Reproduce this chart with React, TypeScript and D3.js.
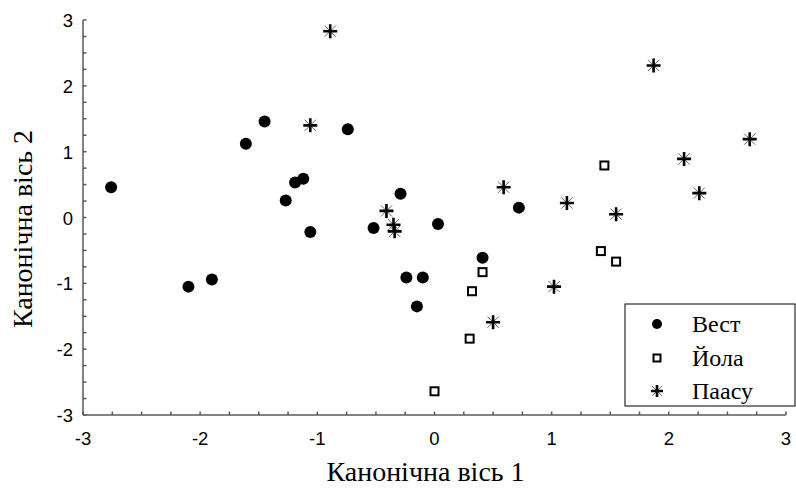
import React from "react";
import * as d3 from "d3";

// Data (canonical scores)
const vestPoints: [number, number][] = [
  [-2.76, 0.46], [-2.1, -1.05], [-1.9, -0.94], [-1.61, 1.12], [-1.45, 1.46],
  [-1.27, 0.26], [-1.19, 0.53], [-1.12, 0.59], [-1.06, -0.22], [-0.74, 1.34],
  [-0.52, -0.16], [-0.29, 0.36], [-0.24, -0.91], [-0.1, -0.91], [-0.15, -1.35],
  [0.03, -0.1], [0.41, -0.61], [0.72, 0.15],
];
const yolaPoints: [number, number][] = [
  [0.41, -0.83], [0.32, -1.12], [0.3, -1.84], [0.0, -2.64],
  [1.42, -0.51], [1.55, -0.67], [1.45, 0.79],
];
const paasuPoints: [number, number][] = [
  [-0.89, 2.83], [-1.06, 1.4], [0.59, 0.46], [1.13, 0.22], [-0.41, 0.1],
  [-0.35, -0.11], [-0.34, -0.21], [1.87, 2.31], [2.69, 1.19], [2.13, 0.89],
  [2.26, 0.37], [1.55, 0.05], [1.02, -1.05], [0.5, -1.59],
];
const legendLabels = ["Вест", "Йола", "Паасу"];
const tickValues = [-3, -2, -1, 0, 1, 2, 3];
const xTitle = "Канонічна вісь 1";
const yTitle = "Канонічна вісь 2";

const W = 796;
const H = 490;
const AXIS = "#5a5a5a";
const SERIF = "'Liberation Serif', Tinos, 'DejaVu Serif'";
const SANS = "'Liberation Sans', Arimo, Roboto, 'DejaVu Sans'";

function Circle({ cx, cy, r = 6 }: { cx: number; cy: number; r?: number }) {
  return <circle cx={cx} cy={cy} r={r} fill="#000" />;
}
function Square({ cx, cy, s = 8 }: { cx: number; cy: number; s?: number }) {
  return (
    <rect x={cx - s / 2} y={cy - s / 2} width={s} height={s} fill="#fff" stroke="#000" strokeWidth={2} />
  );
}
function Star({ cx, cy, s = 7 }: { cx: number; cy: number; s?: number }) {
  const d = s * 0.8;
  return (
    <g>
      <path
        d={`M${cx - d},${cy - d}L${cx + d},${cy + d}M${cx - d},${cy + d}L${cx + d},${cy - d}`}
        stroke="#666"
        strokeWidth={1}
      />
      <path
        d={`M${cx},${cy - s}L${cx},${cy + s}M${cx - s},${cy}L${cx + s},${cy}`}
        stroke="#000"
        strokeWidth={2.6}
      />
    </g>
  );
}

export default function App() {
  const x = d3.scaleLinear().domain([-3, 3]).range([83, 786]);
  const y = d3.scaleLinear().domain([-3, 3]).range([415, 20]);
  const minor = d3.range(-3, 3.0001, 0.25);
  const x0 = x(-3);
  const y0 = y(-3);

  const legX = 625;
  const legY = 304;
  const legW = 170;
  const legH = 102;
  const rowYs = [324, 358, 391];

  return (
    <svg
      width={W}
      height={H}
      style={{ position: "absolute", left: 0, top: 0, display: "block", background: "#fff" }}
    >
      <rect x={0} y={0} width={W} height={H} fill="#fff" />
      {/* axes */}
      <line x1={x0} y1={y(3)} x2={x0} y2={y0} stroke={AXIS} strokeWidth={1.5} />
      <line x1={x0} y1={y0} x2={x(3)} y2={y0} stroke={AXIS} strokeWidth={1.5} />
      {minor.map((v, i) => (
        <line key={"xt" + i} x1={x(v)} x2={x(v)} y1={y0} y2={y0 - 3.5} stroke={AXIS} strokeWidth={1.5} />
      ))}
      {minor.map((v, i) => (
        <line key={"yt" + i} x1={x0} x2={x0 + 3.5} y1={y(v)} y2={y(v)} stroke={AXIS} strokeWidth={1.5} />
      ))}
      {tickValues.map((v) => (
        <text
          key={"xl" + v}
          x={x(v)}
          y={y0 + 30}
          textAnchor="middle"
          fontFamily={SANS}
          fontSize={18.5}
          fill="#000"
        >
          {v}
        </text>
      ))}
      {tickValues.map((v) => (
        <text
          key={"yl" + v}
          x={x0 - 10}
          y={y(v) + 7}
          textAnchor="end"
          fontFamily={SANS}
          fontSize={18.5}
          fill="#000"
        >
          {v}
        </text>
      ))}
      {/* titles */}
      <text x={x(0) - 9} y={481} textAnchor="middle" fontFamily={SERIF} fontSize={28} fill="#000">
        {xTitle}
      </text>
      <text
        transform={`translate(32,229) rotate(-90)`}
        textAnchor="middle"
        fontFamily={SERIF}
        fontSize={28}
        fill="#000"
      >
        {yTitle}
      </text>
      {/* points */}
      {vestPoints.map((p, i) => (
        <Circle key={"v" + i} cx={x(p[0])} cy={y(p[1])} />
      ))}
      {yolaPoints.map((p, i) => (
        <Square key={"y" + i} cx={x(p[0])} cy={y(p[1])} />
      ))}
      {paasuPoints.map((p, i) => (
        <Star key={"p" + i} cx={x(p[0])} cy={y(p[1])} />
      ))}
      {/* legend */}
      <rect x={legX} y={legY} width={legW} height={legH} fill="#fff" stroke="#000" strokeWidth={1} />
      <Circle cx={657} cy={rowYs[0]} r={5} />
      <Square cx={657} cy={rowYs[1]} s={7} />
      <Star cx={657} cy={rowYs[2]} s={6} />
      {legendLabels.map((l, i) => (
        <text key={l} x={692} y={rowYs[i] + 8} fontFamily={SERIF} fontSize={24} fill="#000">
          {l}
        </text>
      ))}
    </svg>
  );
}
